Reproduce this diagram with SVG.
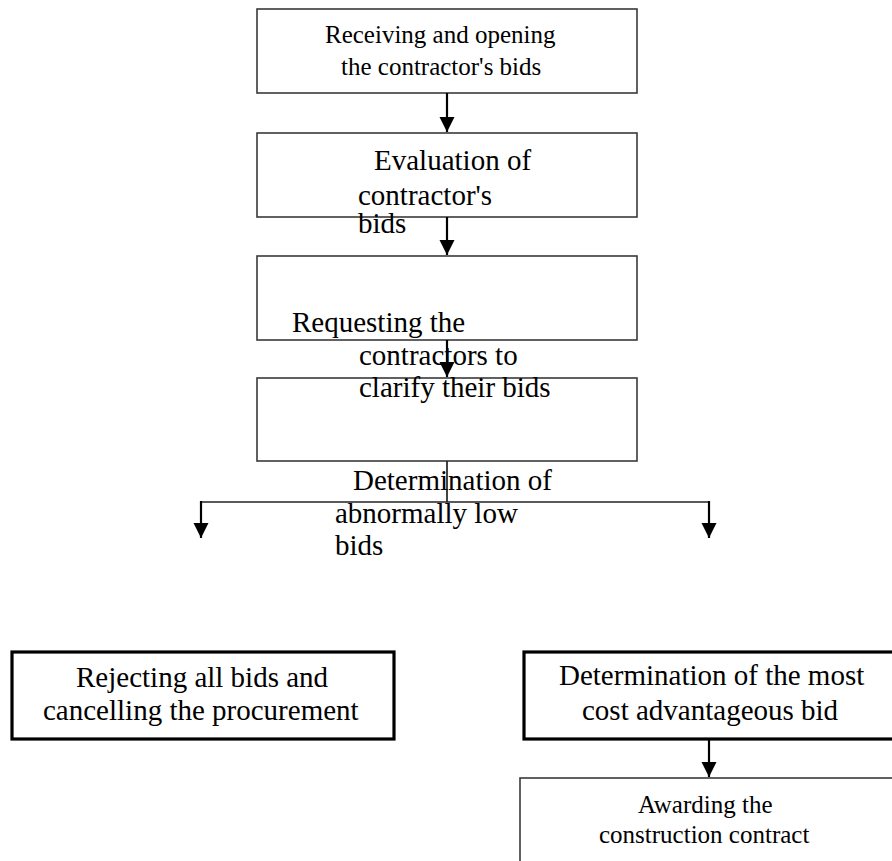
<svg xmlns="http://www.w3.org/2000/svg" width="892" height="861" viewBox="0 0 892 861">
<style>
.thin{fill:#fff;stroke:#3a3a3a;stroke-width:1.6}
.thick{fill:#fff;stroke:#000;stroke-width:3.2}
.t{font-family:"Liberation Serif","Times New Roman",serif;fill:#000}
.s25{font-size:25px}
.s29{font-size:29px}
.c{stroke:#000;stroke-width:2.2;fill:none}
.b{stroke:#222;stroke-width:1.7;fill:none}
</style>
<defs>
<marker id="ah" markerWidth="7" markerHeight="7" refX="7" refY="3.5" orient="auto" markerUnits="strokeWidth">
<path d="M0,0 L7,3.5 L0,7 Z" fill="#000"/>
</marker>
</defs>
<rect width="892" height="861" fill="#fff"/>
<g id="n1">
<rect class="thin" x="257" y="9" width="380" height="84"/>
<text class="t s25" x="325" y="43">Receiving and opening</text>
<text class="t s25" x="341" y="75">the contractor's bids</text>
</g>
<g id="n2">
<rect class="thin" x="257" y="133" width="380" height="84"/>
</g>
<g id="n3">
<rect class="thin" x="257" y="256" width="380" height="84"/>
</g>
<g id="n4">
<rect class="thin" x="257" y="378" width="380" height="83"/>
</g>
<g id="n5">
<rect class="thick" x="12" y="652" width="382" height="87"/>
<text class="t s29" x="76" y="687">Rejecting all bids and</text>
<text class="t s29" x="43" y="720">cancelling the procurement</text>
</g>
<g id="n6">
<rect class="thick" x="524" y="652" width="374" height="87"/>
<text class="t s29" x="559" y="685">Determination of the most</text>
<text class="t s29" x="582" y="720">cost advantageous bid</text>
</g>
<g id="n7">
<rect class="thin" x="520" y="778" width="378" height="95"/>
<text class="t s25" x="638" y="813">Awarding the</text>
<text class="t s25" x="599" y="843">construction contract</text>
</g>
<g id="connectors">
<line class="c" x1="447" y1="93" x2="447" y2="132" marker-end="url(#ah)"/>
<line class="c" x1="447" y1="217" x2="447" y2="255" marker-end="url(#ah)"/>
<line class="c" x1="447" y1="340" x2="447" y2="377" marker-end="url(#ah)"/>
<polyline class="b" points="447,461 447,502"/>
<polyline class="b" points="201,502 709,502"/>
<line class="c" x1="201" y1="501" x2="201" y2="538" marker-end="url(#ah)"/>
<line class="c" x1="709" y1="501" x2="709" y2="538" marker-end="url(#ah)"/>
<line class="c" x1="709" y1="739" x2="709" y2="777" marker-end="url(#ah)"/>
</g>
<g id="floating-labels">
<text class="t s29" x="374" y="170">Evaluation of</text>
<text class="t s29" x="358" y="205">contractor's</text>
<text class="t s29" x="358" y="233">bids</text>
<text class="t s29" x="292" y="332">Requesting the</text>
<text class="t s29" x="359" y="365">contractors to</text>
<text class="t s29" x="359" y="397">clarify their bids</text>
<text class="t s29" x="353" y="490">Determination of</text>
<text class="t s29" x="335" y="523">abnormally low</text>
<text class="t s29" x="335" y="555">bids</text>
</g>
</svg>
